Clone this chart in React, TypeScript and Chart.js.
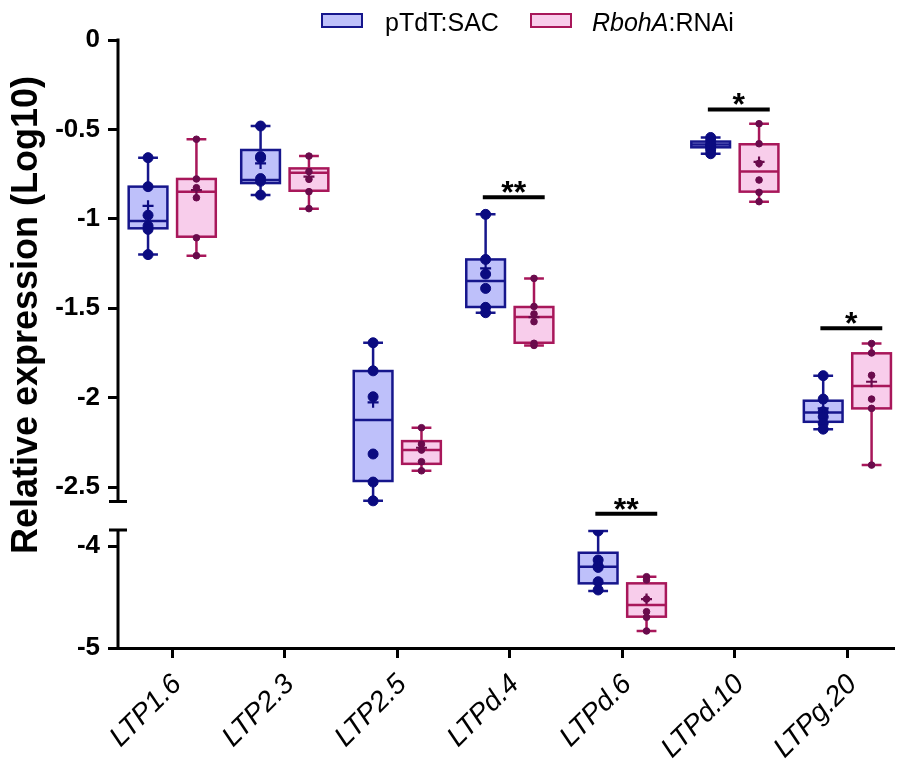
import React, { useEffect, useRef } from "react";
import { Chart, registerables } from "chart.js";

Chart.register(...registerables);

// ---------------- data ----------------
const categories = ["LTP1.6", "LTP2.3", "LTP2.5", "LTPd.4", "LTPd.6", "LTPd.10", "LTPg.20"];
const seriesNames = ["pTdT:SAC", "RbohA:RNAi"];
const italicPart = "RbohA";

// pTdT:SAC box statistics (log10)
const sacMin = [-1.2, -0.867, -2.577, -1.525, -4.441, -0.636, -2.176];
const sacQ1 = [-1.053, -0.8, -2.466, -1.493, -4.366, -0.6, -2.135];
const sacMed = [-1.012, -0.783, -2.125, -1.348, -4.203, -0.585, -2.083];
const sacQ3 = [-0.82, -0.615, -1.851, -1.227, -4.066, -0.568, -2.017];
const sacMax = [-0.658, -0.481, -1.693, -0.975, -3.853, -0.545, -1.877];
const sacMean = [-0.927, -0.69, -2.026, -1.277, -4.2, -0.585, -2.06];
const sacPoints = [
  [-0.658, -0.82, -0.98, -1.04, -1.059, -1.2],
  [-0.481, -0.652, -0.66, -0.775, -0.79, -0.867],
  [-1.693, -1.85, -1.995, -2.315, -2.472, -2.577],
  [-0.975, -1.227, -1.309, -1.389, -1.495, -1.525],
  [-3.853, -4.137, -4.196, -4.21, -4.35, -4.431],
  [-0.545, -0.564, -0.586, -0.6, -0.614, -0.636],
  [-1.877, -2.008, -2.079, -2.107, -2.144, -2.176],
];

// RbohA:RNAi box statistics (log10)
const rnaiMin = [-1.206, -0.943, -2.409, -1.708, -4.833, -0.904, -2.377];
const rnaiQ1 = [-1.1, -0.843, -2.37, -1.693, -4.693, -0.848, -2.06];
const rnaiMed = [-0.848, -0.742, -2.293, -1.549, -4.578, -0.736, -1.935];
const rnaiQ3 = [-0.777, -0.718, -2.243, -1.493, -4.366, -0.583, -1.752];
const rnaiMax = [-0.555, -0.649, -2.168, -1.333, -4.301, -0.468, -1.697];
const rnaiMean = [-0.84, -0.764, -2.28, -1.55, -4.52, -0.682, -1.911];
const rnaiPoints = [
  [-0.555, -0.777, -0.826, -0.882, -1.106, -1.206],
  [-0.649, -0.736, -0.779, -0.848, -0.943],
  [-2.168, -2.26, -2.293, -2.358, -2.409],
  [-1.333, -1.49, -1.532, -1.575, -1.696, -1.708],
  [-4.301, -4.333, -4.52, -4.644, -4.699, -4.833],
  [-0.468, -0.58, -0.69, -0.783, -0.852, -0.904],
  [-1.697, -1.75, -1.875, -2.008, -2.06, -2.377],
];

// significance annotations
const sigCategory = [3, 4, 5, 6];
const sigY = [-0.879, -3.683, -0.388, -1.612];
const sigLabel = ["**", "**", "*", "*"];

// axis ticks
const topTicks = [0, -0.5, -1, -1.5, -2, -2.5];
const bottomTicks = [-4, -5];

// ---------------- styling / layout ----------------
const FONT = "Arial, 'Liberation Sans', Helvetica, sans-serif";
const BLUE_FILL = "#BEC0FA";
const BLUE_EDGE = "#16168C";
const BLUE_DOT = "#0B0B80";
const PINK_FILL = "#F8CDEB";
const PINK_EDGE = "#A8175A";
const PINK_DOT = "#6A0B4C";

const OFFSET = 0.215;
const BOX_HALF = 0.172;
const CAP_HALF = 0.088;
const SIG_FROM = -0.24;
const SIG_TO = 0.31;

const X_MIN = -0.482;
const X_MAX = 6.408;
const TOP_MIN = -2.74;
const TOP_END = -2.58;
const BOT_START = -3.843;
const BOT_MIN = -5;
const SPLIT = -3.2;

function yScaleFor(chart: any, v: number) {
  return v < SPLIT ? chart.scales.yb : chart.scales.yt;
}

function pointData(vals: number[][], off: number, bottom: boolean) {
  const out: { x: number; y: number }[] = [];
  vals.forEach((arr, i) =>
    arr.forEach((v) => {
      if ((v < SPLIT) === bottom) out.push({ x: i + off, y: v });
    })
  );
  return out;
}

function meanData(vals: number[], off: number, bottom: boolean) {
  return pointData(vals.map((v) => [v]), off, bottom);
}

const boxPlugin = {
  id: "boxplots",
  beforeDatasetsDraw(chart: any) {
    const ctx = chart.ctx;
    const xs = chart.scales.x;
    const groups = [
      { off: -OFFSET, min: sacMin, q1: sacQ1, med: sacMed, q3: sacQ3, max: sacMax, fill: BLUE_FILL, edge: BLUE_EDGE },
      { off: OFFSET, min: rnaiMin, q1: rnaiQ1, med: rnaiMed, q3: rnaiQ3, max: rnaiMax, fill: PINK_FILL, edge: PINK_EDGE },
    ];
    ctx.save();
    for (const g of groups) {
      categories.forEach((_, i) => {
        const c = i + g.off;
        const cx = xs.getPixelForValue(c);
        const x0 = xs.getPixelForValue(c - BOX_HALF);
        const x1 = xs.getPixelForValue(c + BOX_HALF);
        const k0 = xs.getPixelForValue(c - CAP_HALF);
        const k1 = xs.getPixelForValue(c + CAP_HALF);
        const ys = yScaleFor(chart, g.med[i]);
        const yMin = ys.getPixelForValue(g.min[i]);
        const yQ1 = ys.getPixelForValue(g.q1[i]);
        const yMed = ys.getPixelForValue(g.med[i]);
        const yQ3 = ys.getPixelForValue(g.q3[i]);
        const yMax = ys.getPixelForValue(g.max[i]);
        ctx.lineWidth = 2.5;
        ctx.strokeStyle = g.edge;
        ctx.lineCap = "butt";
        ctx.beginPath();
        ctx.moveTo(cx, yMax);
        ctx.lineTo(cx, yQ3);
        ctx.moveTo(cx, yQ1);
        ctx.lineTo(cx, yMin);
        ctx.moveTo(k0, yMax);
        ctx.lineTo(k1, yMax);
        ctx.moveTo(k0, yMin);
        ctx.lineTo(k1, yMin);
        ctx.stroke();
        ctx.fillStyle = g.fill;
        ctx.fillRect(x0, yQ3, x1 - x0, yQ1 - yQ3);
        ctx.strokeRect(x0, yQ3, x1 - x0, yQ1 - yQ3);
        ctx.beginPath();
        ctx.moveTo(x0, yMed);
        ctx.lineTo(x1, yMed);
        ctx.stroke();
      });
    }
    ctx.restore();
  },
};

const decorPlugin = {
  id: "decor",
  afterDraw(chart: any) {
    const { ctx, chartArea, scales } = chart;
    const yt = scales.yt;
    const yb = scales.yb;
    const xs = scales.x;
    const ax = chartArea.left;
    ctx.save();

    // broken y axis
    ctx.strokeStyle = "#000";
    ctx.lineWidth = 3;
    ctx.lineCap = "butt";
    const topY = yt.getPixelForValue(0) - 1.5;
    const endY = yt.getPixelForValue(TOP_END);
    const startY = yb.getPixelForValue(BOT_START);
    const botY = yb.getPixelForValue(BOT_MIN) + 1.5;
    ctx.beginPath();
    ctx.moveTo(ax, topY);
    ctx.lineTo(ax, endY);
    ctx.moveTo(ax - 9, endY);
    ctx.lineTo(ax + 9, endY);
    ctx.moveTo(ax - 9, startY);
    ctx.lineTo(ax + 9, startY);
    ctx.moveTo(ax, startY);
    ctx.lineTo(ax, botY);
    ctx.stroke();

    // y title
    ctx.save();
    ctx.translate(27, 315);
    ctx.rotate(-Math.PI / 2);
    ctx.fillStyle = "#000";
    ctx.font = `bold 36px ${FONT}`;
    ctx.textAlign = "center";
    ctx.textBaseline = "middle";
    ctx.fillText("Relative expression (Log10)", 0, 0);
    ctx.restore();

    // significance bars
    ctx.fillStyle = "#000";
    ctx.lineWidth = 4;
    sigCategory.forEach((ci, k) => {
      const ys = yScaleFor(chart, sigY[k]);
      const y = ys.getPixelForValue(sigY[k]);
      const xa = xs.getPixelForValue(ci + SIG_FROM);
      const xb = xs.getPixelForValue(ci + SIG_TO);
      ctx.beginPath();
      ctx.moveTo(xa, y);
      ctx.lineTo(xb, y);
      ctx.stroke();
      ctx.font = `bold 32px ${FONT}`;
      ctx.textAlign = "center";
      ctx.textBaseline = "alphabetic";
      ctx.fillText(sigLabel[k], (xa + xb) / 2, y + 6);
    });

    // legend
    const items = [
      { box: 322, text: 385, fill: BLUE_FILL, edge: BLUE_EDGE, name: seriesNames[0] },
      { box: 531, text: 592, fill: PINK_FILL, edge: PINK_EDGE, name: seriesNames[1] },
    ];
    ctx.textAlign = "left";
    ctx.textBaseline = "alphabetic";
    for (const it of items) {
      ctx.fillStyle = it.fill;
      ctx.fillRect(it.box, 14, 40, 13);
      ctx.strokeStyle = it.edge;
      ctx.lineWidth = 2;
      ctx.strokeRect(it.box, 14, 40, 13);
      ctx.fillStyle = "#000";
      if (it.name.startsWith(italicPart)) {
        ctx.font = `italic 25px ${FONT}`;
        ctx.fillText(italicPart, it.text, 31);
        const w = ctx.measureText(italicPart).width;
        ctx.font = `25px ${FONT}`;
        ctx.fillText(it.name.slice(italicPart.length), it.text + w, 31);
      } else {
        ctx.font = `25px ${FONT}`;
        ctx.fillText(it.name, it.text, 31);
      }
    }
    ctx.restore();
  },
};

function tickGrid() {
  return {
    display: true,
    drawOnChartArea: false,
    drawTicks: true,
    tickLength: 10,
    tickWidth: 3,
    tickColor: "#000",
    lineWidth: 3,
    color: "#000",
  };
}

export default function App() {
  const ref = useRef<HTMLCanvasElement>(null);

  useEffect(() => {
    if (!ref.current) return;
    const dotSet = (data: any[], yAxisID: string, color: string, r: number) => ({
      data,
      yAxisID,
      showLine: false,
      pointRadius: r,
      pointHoverRadius: r,
      pointBackgroundColor: color,
      pointBorderColor: color,
      pointBorderWidth: 1,
      backgroundColor: color,
      borderColor: color,
    });
    const meanSet = (data: any[], yAxisID: string, color: string) => ({
      data,
      yAxisID,
      showLine: false,
      pointStyle: "cross",
      pointRadius: 5.5,
      pointHoverRadius: 5.5,
      pointBorderColor: color,
      pointBorderWidth: 2.2,
      borderColor: color,
      backgroundColor: color,
    });
    const datasets = [
      meanSet(meanData(sacMean, -OFFSET, false), "yt", BLUE_DOT),
      meanSet(meanData(sacMean, -OFFSET, true), "yb", BLUE_DOT),
      meanSet(meanData(rnaiMean, OFFSET, false), "yt", PINK_DOT),
      meanSet(meanData(rnaiMean, OFFSET, true), "yb", PINK_DOT),
      dotSet(pointData(sacPoints, -OFFSET, false), "yt", BLUE_DOT, 5),
      dotSet(pointData(sacPoints, -OFFSET, true), "yb", BLUE_DOT, 5),
      dotSet(pointData(rnaiPoints, OFFSET, false), "yt", PINK_DOT, 3.3),
      dotSet(pointData(rnaiPoints, OFFSET, true), "yb", PINK_DOT, 3.3),
    ];

    const chart = new Chart(ref.current, {
      type: "scatter",
      data: { datasets } as any,
      options: {
        animation: false,
        responsive: false,
        devicePixelRatio: 1,
        events: [],
        layout: { padding: { top: 40, left: 0, right: 0, bottom: 0 } },
        plugins: {
          legend: { display: false },
          tooltip: { enabled: false },
        },
        scales: {
          x: {
            type: "linear",
            position: "bottom",
            min: X_MIN,
            max: X_MAX,
            afterBuildTicks: (s: any) => {
              s.ticks = categories.map((_, i) => ({ value: i }));
            },
            afterFit: (s: any) => {
              s.height = 116;
            },
            ticks: {
              autoSkip: false,
              minRotation: 45,
              maxRotation: 45,
              padding: 10,
              labelOffset: 5,
              color: "#000",
              font: { family: FONT, size: 28, style: "italic" },
              callback: (v: any) => categories[Math.round(Number(v))] ?? "",
            },
            grid: tickGrid(),
            border: { display: true, width: 3, color: "#000" },
          },
          yt: {
            type: "linear",
            position: "left",
            stack: "y",
            stackWeight: 490,
            weight: 1,
            min: TOP_MIN,
            max: 0,
            afterBuildTicks: (s: any) => {
              s.ticks = topTicks.map((v) => ({ value: v }));
            },
            afterFit: (s: any) => {
              s.width = 118;
            },
            ticks: {
              padding: 8,
              color: "#000",
              font: { family: FONT, size: 26, weight: "bold" },
              callback: (v: any) => String(v),
            },
            grid: tickGrid(),
            border: { display: false },
          },
          yb: {
            type: "linear",
            position: "left",
            stack: "y",
            stackWeight: 118,
            weight: 0,
            min: BOT_MIN,
            max: BOT_START,
            afterBuildTicks: (s: any) => {
              s.ticks = bottomTicks.map((v) => ({ value: v }));
            },
            afterFit: (s: any) => {
              s.width = 118;
            },
            ticks: {
              padding: 8,
              color: "#000",
              font: { family: FONT, size: 26, weight: "bold" },
              callback: (v: any) => String(v),
            },
            grid: tickGrid(),
            border: { display: false },
          },
        },
      } as any,
      plugins: [boxPlugin, decorPlugin],
    });
    return () => chart.destroy();
  }, []);

  return (
    <div style={{ position: "fixed", left: 0, top: 0, width: 901, height: 764, background: "#fff" }}>
      <canvas ref={ref} width={901} height={764} style={{ display: "block", width: 901, height: 764 }} />
    </div>
  );
}
